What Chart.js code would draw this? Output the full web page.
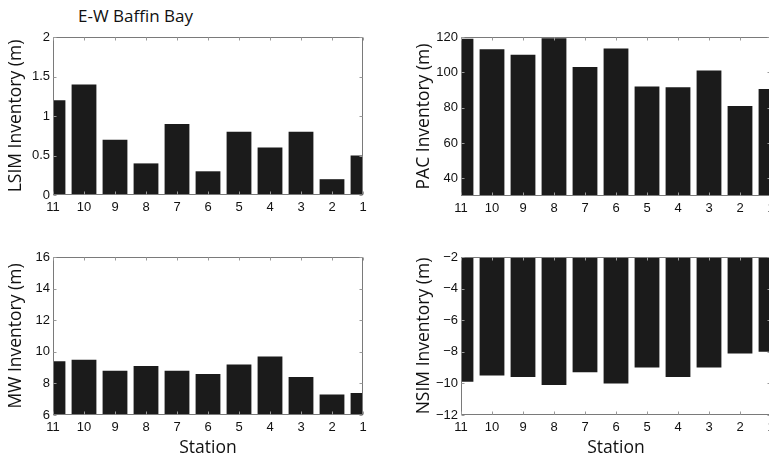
<!DOCTYPE html>
<html lang="en">
<head>
<meta charset="utf-8">
<script src="https://cdn.jsdelivr.net/npm/chart.js@4.4.1/dist/chart.umd.min.js"></script>
<style>
    html, body { margin: 0; padding: 0; background: #fff; width: 769px; height: 457px; overflow: hidden; }
    .box { position: absolute; }
    #title { position: absolute; left: 78px; top: 4px; font: 17px "Open Sans", sans-serif; line-height: 24px; color: #111; white-space: nowrap; }
</style>
</head>
<body>
<div id="title">E-W Baffin Bay</div>
<div class="box" style="left:0;top:0"><canvas id="c1" width="380" height="230"></canvas></div>
<div class="box" style="left:408px;top:0"><canvas id="c2" width="380" height="230"></canvas></div>
<div class="box" style="left:0;top:230px"><canvas id="c3" width="380" height="227"></canvas></div>
<div class="box" style="left:408px;top:230px"><canvas id="c4" width="380" height="227"></canvas></div>

<script>
    // stations, east to west
    var stations = ['11', '10', '9', '8', '7', '6', '5', '4', '3', '2', '1'];

    var lsim = [1.2, 1.4, 0.7, 0.4, 0.9, 0.3, 0.8, 0.6, 0.8, 0.2, 0.5];
    var pac = [119, 113, 110, 119.3, 103, 113.5, 92, 91.5, 101, 81, 90.5];
    var mw = [9.4, 9.5, 8.8, 9.1, 8.8, 8.6, 9.2, 9.7, 8.4, 7.3, 7.4];
    var nsim = [-9.9, -9.5, -9.6, -10.1, -9.3, -10.0, -9.0, -9.6, -9.0, -8.1, -8.0];

    var lsimTicks = [0, 0.5, 1, 1.5, 2];
    var pacTicks = [40, 60, 80, 100, 120];
    var mwTicks = [6, 8, 10, 12, 14, 16];
    var nsimTicks = [-12, -10, -8, -6, -4, -2];

    var tickFont = {family: '"Liberation Sans", Arial, sans-serif', size: 13};
    var titleFont = {family: '"Open Sans", sans-serif', size: 17.5, lineHeight: 1.2};

    // matlab style box with inward ticks on all four sides
    var boxTicks = {
        id: 'boxTicks',
        afterDraw: function (chart) {
            var ctx = chart.ctx, a = chart.chartArea, x = chart.scales.x, y = chart.scales.y;
            var l = Math.round(a.left) + 0.5, r = Math.round(a.right) - 0.5;
            var t = Math.round(a.top) + 0.5, b = Math.round(a.bottom) - 0.5;
            ctx.save();
            ctx.strokeStyle = '#7a7a7a';
            ctx.lineWidth = 1;
            ctx.beginPath();
            ctx.moveTo(l, t); ctx.lineTo(r, t); ctx.lineTo(r, b); ctx.lineTo(l, b); ctx.closePath();
            ctx.stroke();
            ctx.strokeStyle = '#9a9a9a';
            ctx.beginPath();
            for (var i = 0; i < x.ticks.length; i++) {
                var px = Math.round(x.getPixelForTick(i)) + 0.5;
                ctx.moveTo(px, b); ctx.lineTo(px, b - 3);
                ctx.moveTo(px, t); ctx.lineTo(px, t + 3);
            }
            for (var j = 0; j < y.ticks.length; j++) {
                var py = Math.round(y.getPixelForTick(j)) + 0.5;
                ctx.moveTo(l, py); ctx.lineTo(l + 3, py);
                ctx.moveTo(r, py); ctx.lineTo(r - 3, py);
            }
            ctx.stroke();
            ctx.restore();
        }
    };

    function makeChart(id, values, yMin, yMax, yTicks, yTitle, padTop, xHeight, showStation) {
        return new Chart(document.getElementById(id), {
            type: 'bar',
            data: {
                labels: stations,
                datasets: [{
                    data: values,
                    backgroundColor: '#1b1b1b',
                    borderWidth: 0,
                    categoryPercentage: 1,
                    barPercentage: 0.8,
                    clip: 0
                }]
            },
            options: {
                responsive: false,
                animation: false,
                events: [],
                layout: {padding: {top: padTop, right: 17, left: 0, bottom: 0}},
                plugins: {legend: {display: false}, tooltip: {enabled: false}},
                scales: {
                    x: {
                        type: 'category',
                        offset: false,
                        grid: {display: false, drawTicks: false, offset: false},
                        border: {display: false},
                        ticks: {font: tickFont, color: '#111', padding: 5, autoSkip: false, maxRotation: 0},
                        title: {display: showStation, text: 'Station', font: {family: titleFont.family, size: 17.5, lineHeight: 1}, color: '#111', padding: {top: 0, bottom: 0}},
                        afterFit: function (s) { s.height = xHeight; }
                    },
                    y: {
                        min: yMin,
                        max: yMax,
                        grid: {display: false, drawTicks: false},
                        border: {display: false},
                        afterBuildTicks: function (s) {
                            s.ticks = yTicks.map(function (v) { return {value: v}; });
                        },
                        ticks: {
                            font: tickFont, color: '#111', padding: 3,
                            callback: function (v) { return String(v).replace('-', '\u2212'); }
                        },
                        title: {display: true, text: yTitle, font: titleFont, color: '#111', padding: {top: 6, bottom: 0}},
                        afterFit: function (s) { s.width = 53; }
                    }
                }
            },
            plugins: [boxTicks]
        });
    }

    makeChart('c1', lsim, 0, 2, lsimTicks, 'LSIM Inventory (m)', 37, 35, false);
    makeChart('c2', pac, 30, 120, pacTicks, 'PAC Inventory (m)', 37, 34, false);
    makeChart('c3', mw, 6, 16, mwTicks, 'MW Inventory (m)', 27, 42, true);
    makeChart('c4', nsim, -12, -2, nsimTicks, 'NSIM Inventory (m)', 27, 42, true);
</script>
</body>
</html>
